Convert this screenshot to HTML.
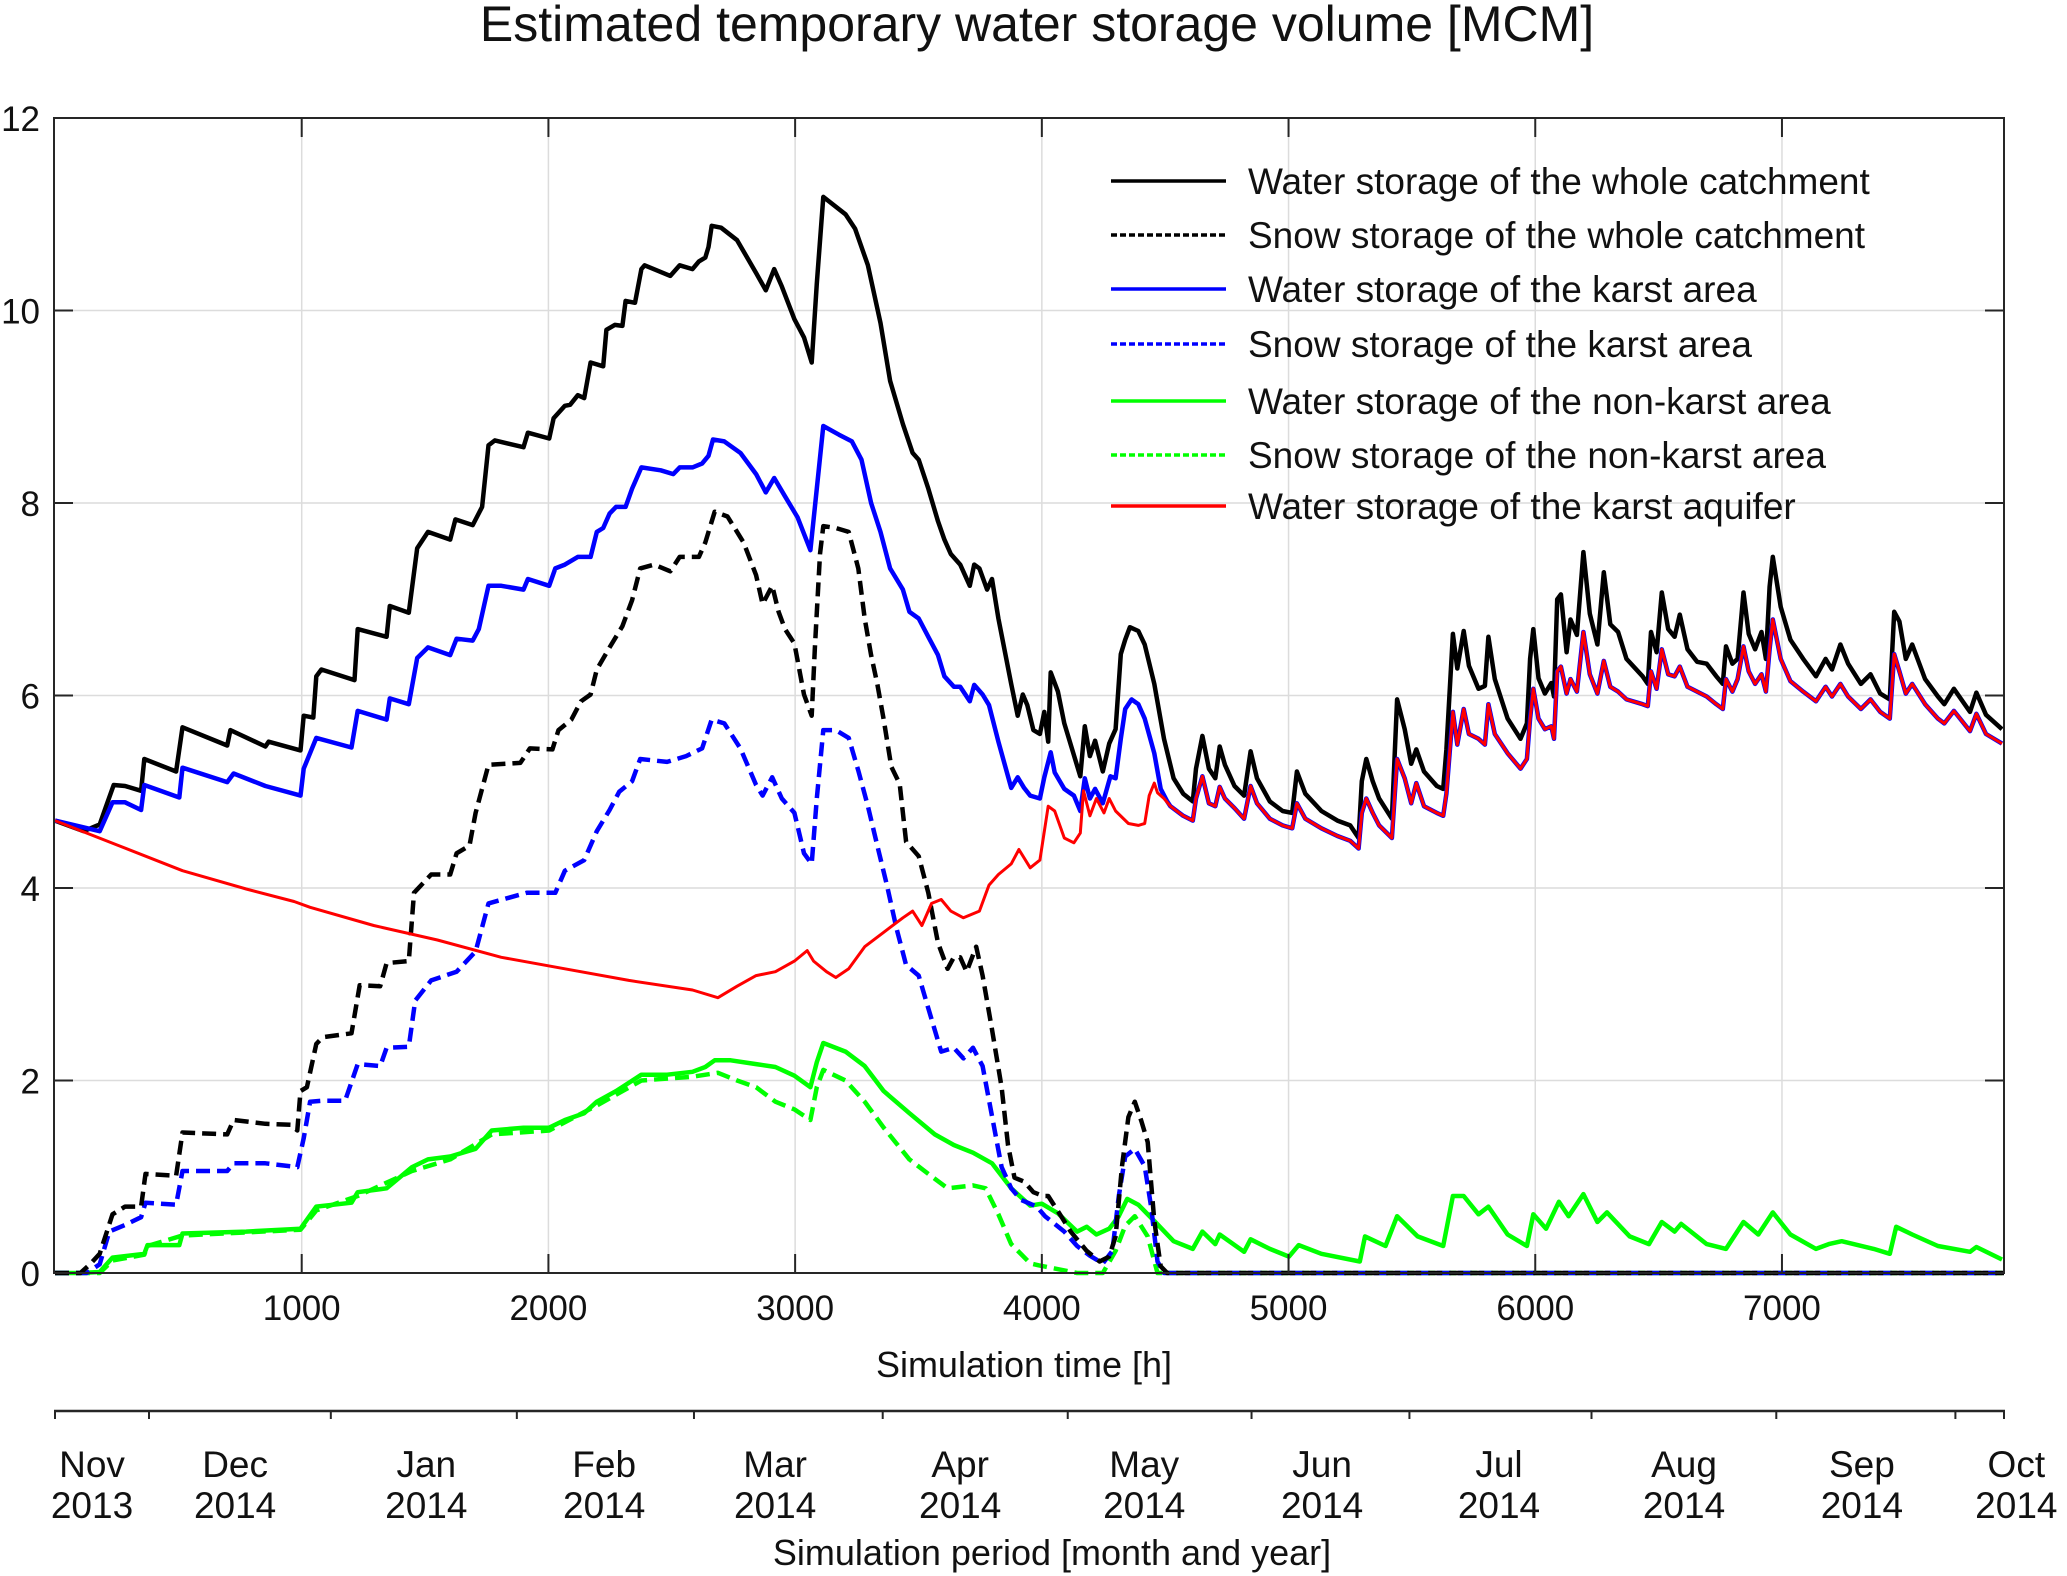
<!DOCTYPE html>
<html><head><meta charset="utf-8"><style>
html,body{margin:0;padding:0;background:#fff}
svg{display:block}
text{font-family:"Liberation Sans",Arial,sans-serif;fill:#111}
</style></head><body>
<svg id="chart" width="2067" height="1576" viewBox="0 0 2067 1576" xmlns="http://www.w3.org/2000/svg">
<text x="1037" y="41" font-size="50" text-anchor="middle">Estimated temporary water storage volume [MCM]</text>
<g id="grid"></g>
<g id="series"></g>
<rect x="54" y="118" width="1950" height="1155" fill="none" stroke="#262626" stroke-width="2"/>
<g id="axes"></g>
<text x="1024" y="1377" font-size="36" text-anchor="middle">Simulation time [h]</text>
<text x="1052" y="1565" font-size="36" text-anchor="middle">Simulation period [month and year]</text>
<g id="legend"></g>
</svg>
<script>
const xTicks=[1000,2000,3000,4000,5000,6000,7000];
const yTicks=[0,2,4,6,8,10,12];
const monthTickHours=[0,381,1118,1872,2590,3355,4105,4850,5490,6228,6977,7703,7900];
const monthNames=["Nov","Dec","Jan","Feb","Mar","Apr","May","Jun","Jul","Aug","Sep","Oct"];
const monthYears=["2013","2014","2014","2014","2014","2014","2014","2014","2014","2014","2014","2014"];
const monthLabelHours=[150,730,1505,2226,2919,3669,4415,5136,5853,6603,7324,7950];

const wholeWaterH=[0,116,181,207,238,284,349,362,491,517,698,711,853,866,995,1008,1047,1059,1080,1214,1227,1344,1357,1434,1468,1512,1602,1623,1693,1731,1757,1783,1899,1917,2003,2021,2067,2088,2119,2145,2171,2222,2235,2269,2300,2313,2351,2377,2390,2494,2532,2584,2610,2636,2649,2662,2700,2765,2842,2881,2915,2946,2997,3036,3067,3088,3114,3204,3243,3295,3346,3385,3437,3476,3501,3540,3579,3605,3631,3669,3708,3726,3747,3778,3798,3824,3876,3902,3923,3941,3966,3992,4010,4026,4036,4065,4091,4156,4174,4195,4216,4247,4273,4299,4320,4338,4357,4391,4417,4456,4495,4534,4573,4612,4625,4651,4677,4703,4721,4742,4781,4820,4846,4872,4924,4976,5015,5034,5068,5133,5198,5250,5284,5297,5315,5341,5367,5419,5440,5471,5497,5518,5549,5601,5627,5640,5666,5684,5710,5731,5770,5796,5810,5836,5888,5940,5966,5979,5992,6013,6039,6065,6076,6089,6104,6127,6143,6169,6195,6221,6252,6278,6304,6336,6370,6435,6456,6469,6492,6513,6539,6565,6586,6617,6656,6695,6734,6760,6773,6799,6820,6844,6865,6891,6917,6935,6950,6963,6995,7034,7086,7138,7177,7203,7237,7268,7320,7359,7398,7437,7455,7476,7502,7528,7580,7632,7658,7697,7762,7788,7827,7892];
const wholeWaterV=[4.70,4.59,4.66,4.85,5.07,5.06,5.01,5.34,5.21,5.67,5.48,5.64,5.47,5.52,5.43,5.79,5.77,6.20,6.27,6.16,6.69,6.61,6.93,6.86,7.53,7.70,7.62,7.83,7.77,7.96,8.60,8.65,8.58,8.73,8.67,8.88,9.01,9.02,9.12,9.09,9.46,9.42,9.80,9.85,9.84,10.10,10.08,10.43,10.47,10.36,10.47,10.43,10.51,10.55,10.66,10.88,10.86,10.73,10.39,10.21,10.43,10.25,9.91,9.72,9.46,10.28,11.18,11.00,10.85,10.47,9.87,9.27,8.82,8.52,8.45,8.15,7.81,7.62,7.47,7.36,7.14,7.36,7.32,7.10,7.21,6.80,6.12,5.79,6.01,5.90,5.64,5.60,5.83,5.52,6.24,6.04,5.71,5.16,5.68,5.37,5.53,5.21,5.50,5.65,6.43,6.58,6.71,6.67,6.53,6.12,5.55,5.14,4.98,4.90,5.24,5.58,5.24,5.14,5.47,5.28,5.06,4.96,5.42,5.14,4.90,4.80,4.78,5.21,4.98,4.80,4.70,4.65,4.52,5.11,5.34,5.11,4.93,4.72,5.96,5.65,5.29,5.44,5.21,5.06,5.03,5.44,6.64,6.28,6.67,6.31,6.07,6.10,6.61,6.17,5.76,5.55,5.71,6.38,6.69,6.18,6.02,6.13,5.99,7.00,7.05,6.45,6.79,6.63,7.49,6.85,6.53,7.28,6.74,6.66,6.38,6.20,6.12,6.66,6.45,7.07,6.69,6.61,6.84,6.48,6.35,6.33,6.20,6.12,6.51,6.33,6.38,7.07,6.64,6.48,6.66,6.38,7.13,7.44,6.92,6.58,6.38,6.20,6.38,6.27,6.53,6.33,6.12,6.22,6.02,5.96,6.87,6.77,6.38,6.53,6.17,5.99,5.91,6.07,5.83,6.03,5.80,5.65];

const aquiferH=[0,258,517,775,969,1034,1292,1550,1809,2067,2326,2584,2687,2765,2842,2920,2997,3049,3075,3127,3165,3217,3282,3359,3437,3476,3514,3553,3592,3631,3682,3747,3786,3824,3876,3907,3953,3992,4026,4052,4091,4130,4156,4169,4195,4221,4252,4273,4299,4351,4391,4417,4435,4456,4469,4495,4521,4573,4612,4625,4651,4677,4703,4721,4742,4781,4820,4846,4872,4924,4976,5015,5034,5068,5133,5198,5250,5284,5297,5315,5341,5367,5419,5440,5471,5497,5518,5549,5601,5627,5640,5666,5684,5710,5731,5770,5796,5810,5836,5888,5940,5966,5979,5992,6013,6039,6065,6076,6089,6104,6127,6143,6169,6195,6221,6252,6278,6304,6336,6370,6435,6456,6469,6492,6513,6539,6565,6586,6617,6656,6695,6734,6760,6773,6799,6820,6844,6865,6891,6917,6935,6950,6963,6995,7034,7086,7138,7177,7203,7237,7268,7320,7359,7398,7437,7455,7476,7502,7528,7580,7632,7658,7697,7762,7788,7827,7892];
const aquiferV=[4.70,4.44,4.18,3.99,3.86,3.80,3.61,3.46,3.28,3.16,3.04,2.94,2.86,2.98,3.09,3.13,3.24,3.35,3.24,3.13,3.07,3.16,3.39,3.54,3.69,3.76,3.61,3.84,3.88,3.76,3.69,3.76,4.03,4.14,4.25,4.40,4.21,4.29,4.85,4.80,4.52,4.47,4.57,5.01,4.75,4.93,4.78,4.93,4.80,4.67,4.65,4.67,4.96,5.09,4.99,4.93,4.85,4.75,4.70,4.93,5.16,4.88,4.85,5.05,4.93,4.83,4.72,5.06,4.88,4.72,4.65,4.62,4.88,4.72,4.62,4.54,4.49,4.41,4.78,4.93,4.78,4.65,4.52,5.34,5.14,4.88,5.09,4.85,4.78,4.75,4.98,5.83,5.49,5.86,5.60,5.55,5.49,5.91,5.60,5.40,5.24,5.34,5.76,6.07,5.76,5.65,5.68,5.55,6.25,6.30,6.02,6.17,6.04,6.66,6.22,6.02,6.36,6.09,6.04,5.96,5.91,5.89,6.25,6.07,6.48,6.22,6.20,6.30,6.09,6.04,5.99,5.91,5.86,6.17,6.04,6.17,6.51,6.25,6.12,6.22,6.04,6.48,6.79,6.38,6.15,6.04,5.94,6.09,5.99,6.12,5.99,5.86,5.96,5.83,5.76,6.43,6.25,6.02,6.12,5.91,5.76,5.71,5.84,5.63,5.81,5.60,5.50];

const karstEarlyH=[0,181,233,284,349,362,504,517,698,724,853,995,1008,1059,1202,1227,1344,1357,1434,1468,1512,1602,1628,1693,1718,1757,1809,1899,1917,2003,2028,2067,2119,2171,2196,2222,2248,2274,2313,2339,2377,2455,2506,2532,2584,2623,2649,2667,2713,2778,2842,2881,2915,2959,3010,3062,3088,3114,3178,3230,3269,3308,3346,3385,3437,3463,3501,3540,3579,3605,3644,3669,3708,3726,3760,3786,3824,3876,3902,3928,3953,3992,4010,4036,4052,4091,4130,4156,4174,4195,4216,4247,4278,4299,4320,4338,4364,4391,4417,4456,4482,4508];
const karstEarlyV=[4.70,4.59,4.89,4.89,4.81,5.07,4.94,5.25,5.10,5.19,5.06,4.96,5.24,5.56,5.46,5.84,5.75,5.97,5.91,6.39,6.50,6.42,6.59,6.57,6.69,7.14,7.14,7.10,7.21,7.14,7.32,7.36,7.44,7.44,7.70,7.74,7.89,7.96,7.96,8.15,8.37,8.34,8.30,8.37,8.37,8.41,8.49,8.66,8.64,8.52,8.30,8.11,8.26,8.07,7.85,7.51,8.15,8.80,8.71,8.64,8.45,8.00,7.70,7.32,7.10,6.87,6.80,6.61,6.42,6.20,6.09,6.09,5.94,6.11,6.01,5.90,5.52,5.04,5.15,5.04,4.96,4.93,5.15,5.41,5.20,5.03,4.96,4.80,5.14,4.93,5.03,4.88,5.16,5.14,5.55,5.86,5.96,5.91,5.76,5.40,5.03,4.90];

const wholeSnowH=[0,103,142,181,233,284,349,367,491,517,698,724,853,956,982,995,1021,1059,1085,1202,1235,1318,1344,1434,1455,1525,1602,1628,1680,1705,1757,1886,1925,2016,2041,2093,2132,2171,2196,2248,2300,2339,2372,2429,2494,2532,2610,2636,2674,2726,2791,2842,2868,2907,2933,2959,2997,3036,3067,3080,3101,3114,3165,3217,3256,3282,3308,3333,3359,3390,3424,3450,3501,3540,3579,3618,3643,3669,3695,3734,3760,3798,3837,3863,3889,3928,3966,4005,4026,4078,4117,4182,4234,4273,4299,4325,4351,4377,4403,4429,4456,4482,4508,7900];
const wholeSnowV=[0,0,0.09,0.20,0.61,0.69,0.69,1.03,1.01,1.46,1.44,1.59,1.55,1.54,1.48,1.89,1.93,2.38,2.45,2.49,2.99,2.98,3.22,3.24,3.95,4.14,4.14,4.36,4.44,4.78,5.28,5.30,5.45,5.44,5.64,5.75,5.94,6.01,6.27,6.50,6.72,6.99,7.32,7.36,7.29,7.44,7.44,7.59,7.91,7.86,7.59,7.25,6.95,7.14,6.87,6.69,6.54,6.01,5.79,6.50,7.47,7.76,7.74,7.70,7.32,6.80,6.42,6.12,5.75,5.26,5.08,4.48,4.33,3.95,3.43,3.16,3.28,3.28,3.13,3.39,3.09,2.53,1.93,1.33,0.99,0.95,0.84,0.80,0.80,0.59,0.43,0.23,0.12,0.17,0.38,1.11,1.62,1.78,1.58,1.36,0.54,0.07,0,0];

const karstSnowH=[0,129,181,220,284,349,367,491,517,698,724,853,982,1008,1034,1085,1176,1227,1318,1344,1434,1460,1525,1628,1705,1757,1912,2028,2067,2145,2196,2248,2287,2339,2372,2481,2558,2623,2662,2713,2778,2842,2868,2907,2946,2997,3036,3067,3088,3114,3165,3217,3256,3295,3333,3372,3411,3450,3501,3540,3592,3643,3682,3721,3760,3798,3837,3876,3915,3979,4013,4091,4143,4195,4247,4286,4312,4338,4377,4417,4443,4469,4495,7900];
const karstSnowV=[0,0,0.09,0.43,0.50,0.58,0.73,0.71,1.06,1.06,1.14,1.14,1.10,1.40,1.78,1.79,1.79,2.17,2.15,2.34,2.35,2.83,3.04,3.13,3.34,3.84,3.95,3.95,4.18,4.29,4.59,4.81,5.00,5.11,5.34,5.31,5.37,5.45,5.75,5.71,5.45,5.07,4.96,5.15,4.93,4.78,4.36,4.25,4.93,5.64,5.64,5.56,5.22,4.85,4.44,4.03,3.58,3.20,3.09,2.75,2.30,2.34,2.23,2.34,2.15,1.63,1.10,0.88,0.76,0.69,0.59,0.43,0.28,0.18,0.10,0.23,0.80,1.21,1.29,1.11,0.69,0.12,0,0];

const nonKarstWaterH=[0,103,181,233,362,375,504,517,775,995,1059,1202,1227,1344,1447,1512,1602,1705,1770,1899,2003,2067,2145,2196,2274,2377,2481,2584,2636,2674,2739,2842,2920,2997,3062,3088,3114,3204,3282,3359,3463,3566,3643,3721,3798,3876,3953,4000,4065,4143,4182,4221,4273,4312,4346,4391,4456,4534,4612,4651,4703,4721,4820,4846,4924,5002,5041,5133,5289,5310,5393,5440,5523,5627,5666,5710,5770,5810,5888,5966,5992,6044,6096,6135,6195,6252,6291,6383,6461,6513,6565,6591,6695,6773,6844,6904,6963,7034,7138,7190,7242,7372,7437,7463,7528,7632,7762,7788,7892];
const nonKarstWaterV=[0,0,0.01,0.16,0.20,0.29,0.29,0.41,0.43,0.46,0.69,0.73,0.84,0.88,1.10,1.18,1.21,1.29,1.48,1.51,1.51,1.59,1.66,1.78,1.89,2.06,2.06,2.09,2.14,2.21,2.21,2.17,2.14,2.05,1.93,2.19,2.39,2.30,2.15,1.89,1.66,1.44,1.33,1.25,1.14,0.88,0.70,0.72,0.62,0.43,0.48,0.40,0.46,0.59,0.77,0.71,0.54,0.33,0.25,0.43,0.30,0.40,0.22,0.35,0.25,0.17,0.29,0.20,0.12,0.38,0.28,0.59,0.38,0.28,0.80,0.80,0.61,0.69,0.40,0.28,0.61,0.46,0.74,0.59,0.82,0.53,0.63,0.38,0.30,0.53,0.43,0.51,0.30,0.25,0.53,0.40,0.63,0.40,0.25,0.30,0.33,0.25,0.20,0.48,0.40,0.28,0.22,0.27,0.14];

const nonKarstSnowH=[0,181,233,362,375,517,995,1059,1227,1447,1602,1770,2003,2196,2377,2584,2687,2765,2842,2920,2997,3062,3088,3114,3204,3282,3359,3463,3540,3618,3721,3772,3824,3876,3953,3987,4143,4247,4299,4338,4377,4429,4469,7900];
const nonKarstSnowV=[0,0,0.13,0.19,0.28,0.39,0.45,0.65,0.80,1.06,1.18,1.44,1.48,1.74,2.00,2.04,2.08,2.00,1.93,1.78,1.70,1.59,1.93,2.11,2.00,1.78,1.51,1.18,1.03,0.88,0.91,0.88,0.61,0.30,0.10,0.08,0,0,0.23,0.49,0.59,0.38,0,0];

const karstWaterH=karstEarlyH.concat(aquiferH.filter(h=>h>4520));
const karstWaterV=karstEarlyV.concat(aquiferV.filter((v,i)=>aquiferH[i]>4520));

const NS="http://www.w3.org/2000/svg";
const L=55,R=2004,T=118,B=1273,XMAX=7900,YMAX=12;
const sx=h=>L+(R-L)*h/XMAX;
const sy=v=>B-(B-T)*v/YMAX;
function mk(tag,attrs,parent){const e=document.createElementNS(NS,tag);for(const k in attrs)e.setAttribute(k,attrs[k]);parent.appendChild(e);return e;}
const grid=document.getElementById('grid'),axes=document.getElementById('axes'),series=document.getElementById('series'),legend=document.getElementById('legend');

xTicks.forEach(t=>{
  const g=mk('line',{x1:sx(t),x2:sx(t),y1:T,y2:B,stroke:'#dcdcdc','stroke-width':1.5},grid);
  
  
  const a=mk('line',{x1:sx(t),x2:sx(t),y1:B,y2:B-19,stroke:'#262626','stroke-width':2},axes);
  
  
  const a2=mk('line',{x1:sx(t),x2:sx(t),y1:T,y2:T+19,stroke:'#262626','stroke-width':2},axes);
  
  
  const tx=mk('text',{x:sx(t),y:1320,'font-size':35,'text-anchor':'middle'},axes);
  tx.textContent=t;
  
  
});
yTicks.forEach(t=>{
  if(t>0&&t<12){
    const g=mk('line',{x1:54,x2:2004,y1:sy(t),y2:sy(t),stroke:'#dcdcdc','stroke-width':1.5},grid);
    
    
  }
  const a=mk('line',{x1:54,x2:73,y1:sy(t),y2:sy(t),stroke:'#262626','stroke-width':2},axes);
  
  
  const a2=mk('line',{x1:1985,x2:2004,y1:sy(t),y2:sy(t),stroke:'#262626','stroke-width':2},axes);
  
  
  const tx=mk('text',{x:40,y:sy(t)+13,'font-size':35,'text-anchor':'end'},axes);
  tx.textContent=t;
  
  
});
const dl=mk('line',{x1:54,x2:2005,y1:1411,y2:1411,stroke:'#262626','stroke-width':2.5},axes);


monthTickHours.forEach(h=>{
  const t=mk('line',{x1:sx(h),x2:sx(h),y1:1411,y2:1419,stroke:'#262626','stroke-width':2},axes);
  
  
});
monthNames.forEach((m,i)=>{
  const x=sx(monthLabelHours[i]);
  const t1=mk('text',{x:x,y:1477,'font-size':37,'text-anchor':'middle'},axes);
  t1.textContent=m;
  
  
  const t2=mk('text',{x:x,y:1518,'font-size':37,'text-anchor':'middle'},axes);
  t2.textContent=monthYears[i];
  
  
});

const defs=[
 {H:nonKarstWaterH,V:nonKarstWaterV,c:'#00ff00',w:4.5,d:'',n:'non-karst-water-line',lab:'Water storage of the non-karst area',li:4},
 {H:nonKarstSnowH,V:nonKarstSnowV,c:'#00ff00',w:4.5,d:'14 7',n:'non-karst-snow-line',lab:'Snow storage of the non-karst area',li:5},
 {H:karstSnowH,V:karstSnowV,c:'#0000ff',w:4.5,d:'14 7',n:'karst-snow-line',lab:'Snow storage of the karst area',li:3},
 {H:wholeSnowH,V:wholeSnowV,c:'#000000',w:4.5,d:'14 7',n:'catchment-snow-line',lab:'Snow storage of the whole catchment',li:1},
 {H:wholeWaterH,V:wholeWaterV,c:'#000000',w:4.5,d:'',n:'catchment-water-line',lab:'Water storage of the whole catchment',li:0},
 {H:karstWaterH,V:karstWaterV,c:'#0000ff',w:4.5,d:'',n:'karst-water-line',lab:'Water storage of the karst area',li:2},
 {H:aquiferH,V:aquiferV,c:'#ff0000',w:3,d:'',n:'karst-aquifer-line',lab:'Water storage of the karst aquifer',li:6}
];
const legY=[181,235,289,344,401,455,506];
defs.forEach(s=>{
  const pts=s.H.map((h,i)=>sx(h).toFixed(1)+','+sy(s.V[i]).toFixed(1)).join(' ');
  const p=mk('polyline',{points:pts,fill:'none',stroke:s.c,'stroke-width':s.w,'stroke-linejoin':'round'},series);
  if(s.d)p.setAttribute('stroke-dasharray',s.d);
  
  
  const y=legY[s.li];
  const ll=mk('line',{x1:1111,x2:1226,y1:y,y2:y,stroke:s.c,'stroke-width':3.5},legend);
  if(s.d)ll.setAttribute('stroke-dasharray','6 3');
  
  
  const lt=mk('text',{x:1248,y:y+13,'font-size':37},legend);
  lt.textContent=s.lab;
  
  
});
</script>
</body></html>
